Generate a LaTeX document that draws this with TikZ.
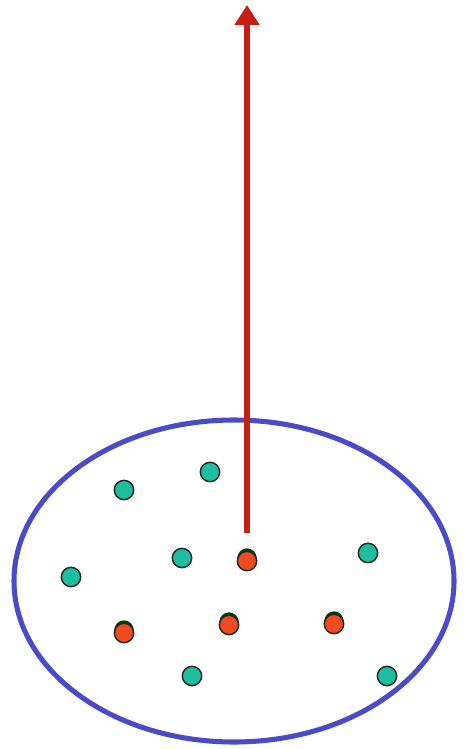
\documentclass[tikz,border=0pt]{standalone}
\usetikzlibrary{arrows.meta}
\definecolor{ringblue}{RGB}{75,75,200}
\definecolor{arrowred}{RGB}{200,30,20}
\definecolor{teal}{RGB}{30,190,160}
\definecolor{hot}{RGB}{240,75,30}
\tikzset{
  plain/.style={circle, draw=black!85, line width=1.1pt, fill=teal, minimum size=14.5pt, inner sep=0pt},
  hotdot/.style={circle, draw=black!85, line width=1.1pt, fill=hot, minimum size=14.5pt, inner sep=0pt},
  shade/.style={circle, fill=black!75!green, minimum size=14.5pt, inner sep=0pt}
}
\begin{document}
\begin{tikzpicture}[x=0.75pt, y=-0.75pt]
    \useasboundingbox (0,0) rectangle (466,749);
    \draw[ringblue, line width=3.8pt] (234,581) ellipse (220 and 161);
    \coordinate (base) at (247,533);
    \coordinate (tip) at (247,5);
    \draw[arrowred, line width=3.8pt, -{Triangle[length=15pt, width=18pt]}] (base) -- (tip);
    % plain points
    \node[plain] (p1) at (210,472) {};
    \node[plain] (p2) at (124,490) {};
    \node[plain] (p3) at (182,558) {};
    \node[plain] (p4) at (71,577) {};
    \node[plain] (p5) at (368,553) {};
    \node[plain] (p6) at (192,676) {};
    \node[plain] (p7) at (387,676) {};
    % marked points
    \foreach \n/\x/\y in {h1/247/561, h2/124/633, h3/229/625, h4/334/624} {
        \node[shade] at (\x,\y-3) {};
        \node[hotdot] (\n) at (\x,\y) {};
    }
\end{tikzpicture}
\end{document}
